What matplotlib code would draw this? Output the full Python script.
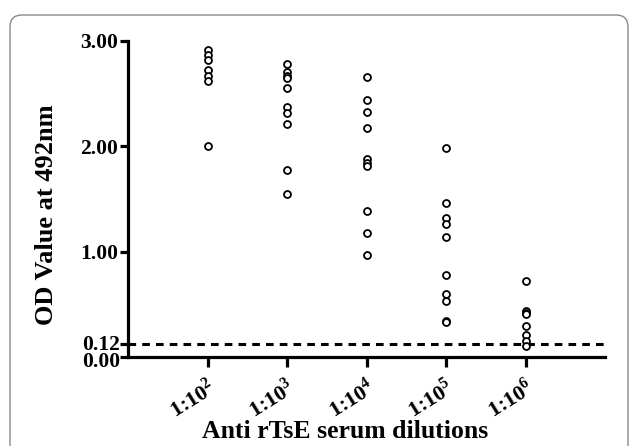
import matplotlib
matplotlib.use("Agg")
import matplotlib.pyplot as plt
import matplotlib.transforms as mtransforms
from matplotlib.patches import FancyBboxPatch

plt.rcParams['font.family'] = ['Liberation Serif', 'DejaVu Serif']
plt.rcParams['font.weight'] = 'bold'
plt.rcParams['mathtext.fontset'] = 'custom'
plt.rcParams['mathtext.rm'] = 'Liberation Serif:bold'
plt.rcParams['mathtext.bf'] = 'Liberation Serif:bold'

categories = ["1:10$^2$", "1:10$^3$", "1:10$^4$", "1:10$^5$", "1:10$^6$"]
od_1e2 = [2.91, 2.87, 2.82, 2.72, 2.67, 2.62, 2.00]
od_1e3 = [2.78, 2.71, 2.67, 2.65, 2.55, 2.37, 2.32, 2.21, 1.78, 1.55]
od_1e4 = [2.66, 2.44, 2.33, 2.17, 1.88, 1.84, 1.81, 1.39, 1.18, 0.97]
od_1e5 = [1.98, 1.46, 1.32, 1.26, 1.14, 0.78, 0.60, 0.53, 0.34, 0.33]
od_1e6 = [0.72, 0.44, 0.42, 0.41, 0.29, 0.21, 0.15, 0.10]
series = [od_1e2, od_1e3, od_1e4, od_1e5, od_1e6]
cutoff = 0.12
yticks = [0.00, 0.12, 1.00, 2.00, 3.00]
ytick_labels = ["0.00", "0.12", "1.00", "2.00", "3.00"]

fig = plt.figure(figsize=(6.29, 4.46), dpi=100)
ax = fig.add_axes([128/629, 1-357/446, (605-128)/629, (357-41)/446])

for i, vals in enumerate(series):
    ax.plot([i + 1] * len(vals), vals, linestyle='none', marker='o',
            markersize=5, markerfacecolor='white', markeredgecolor='black',
            markeredgewidth=1.3, zorder=3, clip_on=False)

ax.axhline(cutoff, color='black', linestyle=(0, (2.5, 2.0)), linewidth=2.2, zorder=2)

ax.set_xlim(0, 6)
ax.set_ylim(0, 3)
ax.set_yticks(yticks)
# the two crowded bottom labels are drawn by hand, slightly pushed apart
ax.set_yticklabels(["", ""] + ytick_labels[2:], fontsize=15.5, fontweight='bold')
ax.set_xticks(range(1, 6))
ax.set_xticklabels(categories, fontsize=16, fontweight='bold', rotation=32,
                   ha='right', rotation_mode='anchor')

base = ax.get_yaxis_transform()
for val, lab, dy in [(yticks[0], ytick_labels[0], -2.5), (yticks[1], ytick_labels[1], 2.0)]:
    tr = base + mtransforms.ScaledTranslation(-8/100, dy/100, fig.dpi_scale_trans)
    ax.text(0, val, lab, transform=tr, ha='right', va='center_baseline',
            fontsize=15.5, fontweight='bold', clip_on=False)

for s in ['top', 'right']:
    ax.spines[s].set_visible(False)
for s in ['left', 'bottom']:
    ax.spines[s].set_linewidth(2.3)
ax.tick_params(axis='both', direction='out', length=6, width=2.3, pad=1)
ax.tick_params(axis='x', length=7, pad=6)

fig.text(47/629, 1-215/446, "OD Value at 492nm", rotation=90, ha='center', va='center',
         fontsize=19, fontweight='bold')
fig.text(345/629, 1-431/446, "Anti rTsE serum dilutions", ha='center', va='center',
         fontsize=18.5, fontweight='bold')

box = FancyBboxPatch((0.10, -0.3), 6.18, 4.46 - 0.15 + 0.3,
                     boxstyle="round,pad=0,rounding_size=0.12",
                     transform=fig.dpi_scale_trans, facecolor='none',
                     edgecolor='#888888', linewidth=1.0, clip_on=False)
fig.patches.append(box)

fig.savefig("out.png", dpi=100)
